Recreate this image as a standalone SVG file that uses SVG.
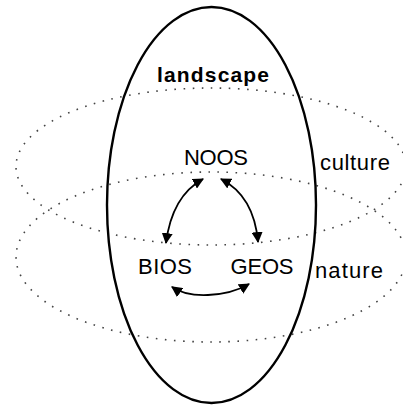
<svg xmlns="http://www.w3.org/2000/svg" width="403" height="405" viewBox="0 0 403 405">
<style>
.dot{fill:none;stroke:#444;stroke-width:1.6;stroke-dasharray:1.6 7.5;}
.main{fill:none;stroke:#000;stroke-width:2.4;}
.arr{fill:none;stroke:#000;stroke-width:1.8;marker-start:url(#ah);marker-end:url(#ah);}
text{font-family:"Liberation Sans",Arial,sans-serif;fill:#000;}
.lbl{font-size:22px;}
.side{font-size:22px;}
</style>
<defs>
<marker id="ah" viewBox="0 0 10 10" refX="9" refY="5" markerWidth="11" markerHeight="11" markerUnits="userSpaceOnUse" orient="auto-start-reverse">
<path d="M0,0 L10,5 L0,10 z" fill="#000"/>
</marker>
</defs>
<g id="layers">
<ellipse id="culture-layer" class="dot" cx="211" cy="166.5" rx="195" ry="78.5"/>
<ellipse id="nature-layer" class="dot" cx="211" cy="257" rx="195" ry="85"/>
</g>
<g id="landscape">
<ellipse class="main" cx="211.5" cy="205" rx="104.5" ry="198"/>
<text x="213" y="82" text-anchor="middle" font-size="21" font-weight="bold" textLength="112">landscape</text>
</g>
<g id="noos"><text class="lbl" x="216" y="165" text-anchor="middle" textLength="64">NOOS</text></g>
<g id="bios"><text class="lbl" x="165" y="274" text-anchor="middle" textLength="54">BIOS</text></g>
<g id="geos"><text class="lbl" x="262" y="274" text-anchor="middle" textLength="63">GEOS</text></g>
<g id="culture"><text class="side" x="320" y="170" textLength="70">culture</text></g>
<g id="nature"><text class="side" x="315" y="278" textLength="68">nature</text></g>
<g id="connectors">
<path class="arr" d="M203,179 Q172,196 166,243"/>
<path class="arr" d="M221,179 Q254,196 258,242"/>
<path class="arr" d="M172,287 Q185,296 208,295 Q232,294 249,284"/>
</g>
</svg>
